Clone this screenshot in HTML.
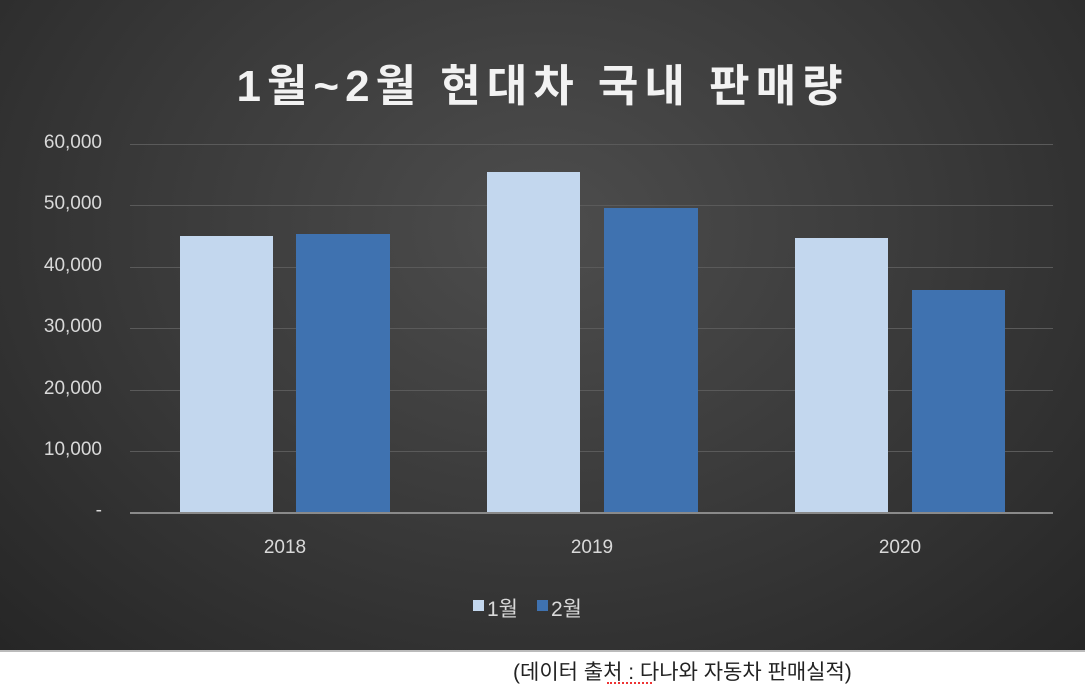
<!DOCTYPE html>
<html><head><meta charset="utf-8"><style>
body{margin:0;width:1085px;height:685px;background:#fff;overflow:hidden;font-family:"Liberation Sans","Noto Sans CJK KR",sans-serif}
.chart{position:absolute;left:0;top:0;width:1085px;height:650px;background:radial-gradient(ellipse at 50% 35%,#4d4d4d 0%,#3a3a3a 50%,#262626 100%)}
.t{position:absolute;color:#d9d9d9;font-size:19px}
.g{position:absolute;left:130px;width:923px;height:1px;background:#5a5a5a}
.b{position:absolute}
</style></head><body>
<div class="chart">
<div style="position:absolute;left:0;width:1085px;top:50px;text-align:center;color:#f2f2f2;font-size:44px;font-weight:bold;letter-spacing:6px">1월~2월 현대차 국내 판매량</div>
<div class="g" style="top:144px"></div><div class="g" style="top:205px"></div><div class="g" style="top:267px"></div><div class="g" style="top:328px"></div><div class="g" style="top:390px"></div><div class="g" style="top:451px"></div>
<div class="t" style="left:18px;top:132px;width:84px;text-align:right">60,000</div>
<div class="t" style="left:18px;top:193px;width:84px;text-align:right">50,000</div>
<div class="t" style="left:18px;top:255px;width:84px;text-align:right">40,000</div>
<div class="t" style="left:18px;top:316px;width:84px;text-align:right">30,000</div>
<div class="t" style="left:18px;top:378px;width:84px;text-align:right">20,000</div>
<div class="t" style="left:18px;top:439px;width:84px;text-align:right">10,000</div>
<div class="t" style="left:18px;top:500px;width:84px;text-align:right">-</div>
<div class="b" style="left:180px;top:236px;width:93px;height:277px;background:#c3d7ee"></div>
<div class="b" style="left:296px;top:234px;width:94px;height:279px;background:#3f72b0"></div>
<div class="b" style="left:487px;top:172px;width:93px;height:341px;background:#c3d7ee"></div>
<div class="b" style="left:604px;top:208px;width:94px;height:305px;background:#3f72b0"></div>
<div class="b" style="left:795px;top:238px;width:93px;height:275px;background:#c3d7ee"></div>
<div class="b" style="left:912px;top:290px;width:93px;height:223px;background:#3f72b0"></div>
<div style="position:absolute;left:130px;top:512px;width:923px;height:2px;background:#8a8a8a"></div>
<div class="t" style="left:235px;top:537px;width:100px;text-align:center">2018</div>
<div class="t" style="left:542px;top:537px;width:100px;text-align:center">2019</div>
<div class="t" style="left:850px;top:537px;width:100px;text-align:center">2020</div>
<div style="position:absolute;left:473px;top:600px;width:11px;height:11px;background:#c3d7ee"></div>
<div class="t" style="left:487px;top:593px;font-size:21px">1월</div>
<div style="position:absolute;left:537px;top:600px;width:11px;height:11px;background:#3f72b0"></div>
<div class="t" style="left:551px;top:593px;font-size:21px">2월</div>
</div>
<div style="position:absolute;left:0;top:650px;width:1085px;height:2px;background:#bbb"></div>
<div style="position:absolute;left:513px;top:656px;font-size:21px;color:#222">(데이터 출처 : 다나와 자동차 판매실적)</div>
<div style="position:absolute;left:607px;top:682px;width:45px;border-top:2px dotted #e33"></div>
</body></html>
